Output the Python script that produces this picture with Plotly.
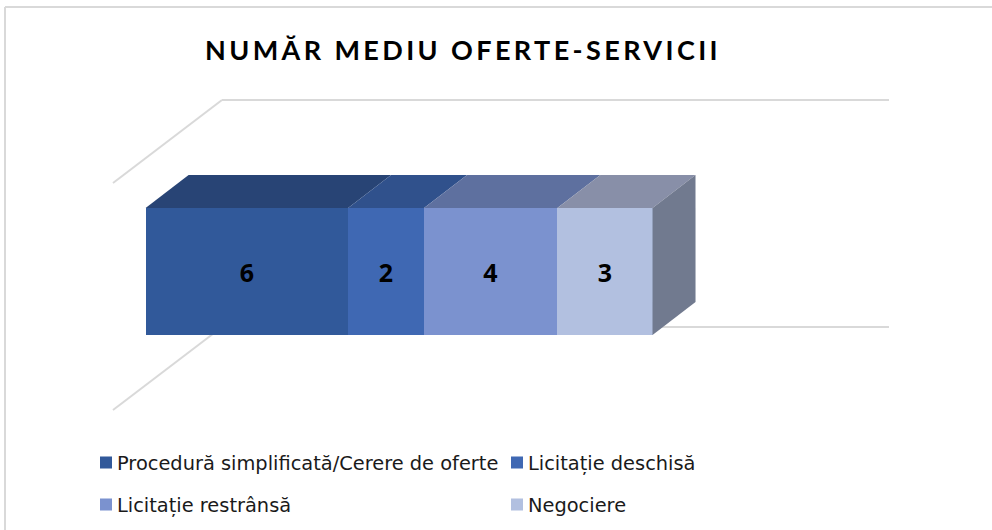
import plotly.graph_objects as go

# ---- data ----
TITLE = "NUMĂR MEDIU OFERTE-SERVICII"
methods = ["Procedură simplificată/Cerere de oferte", "Licitație deschisă", "Licitație restrânsă", "Negociere"]
values = [6.0, 2.25, 3.95, 2.82]
labels = ["6", "2", "4", "3"]
front_colors = ["#31599a", "#3f68b3", "#7b92cf", "#b2c0e0"]
top_colors = ["#284475", "#30518c", "#5e709f", "#888fa8"]
side_color = "#717a8f"
grid_color = "#d9d9d9"

# ---- layout geometry ----
W, H = 992, 530
PX_PER_X = 33.75   # px per value unit
PX_PER_Y = 127.0   # bar thickness
X0_PX, Y0_PX = 145.6, 335
DX, DY = 43 / PX_PER_X, 33 / PX_PER_Y   # 3-D depth, in axis units
X_RANGE = [-X0_PX / PX_PER_X, (W - X0_PX) / PX_PER_X]
Y_RANGE = [-(H - Y0_PX) / PX_PER_Y, Y0_PX / PX_PER_Y]


def ax(px):
    return (px - X0_PX) / PX_PER_X


def ay(py):
    return (Y0_PX - py) / PX_PER_Y


fig = go.Figure()
starts = [sum(values[:i]) for i in range(len(values))]

# front faces: stacked bars
for i, (m, v, lab) in enumerate(zip(methods, values, labels)):
    fig.add_bar(
        y=[0.5], x=[v], width=1, orientation="h", name=m,
        marker=dict(color=front_colors[i], line=dict(width=0)),
        text=[lab], textposition="inside", insidetextanchor="middle",
        textangle=0, constraintext="none",
        textfont=dict(family="Open Sans", size=25, color="#000000", weight="bold"),
        legend="legend" if i < 2 else "legend2",
    )

# top faces
for i, v in enumerate(values):
    s = starts[i]
    fig.add_scatter(
        x=[s, s + v, s + v + DX, s + DX, s], y=[1, 1, 1 + DY, 1 + DY, 1],
        mode="lines", fill="toself", fillcolor=top_colors[i],
        line=dict(width=0), showlegend=False, hoverinfo="skip",
    )

# right-hand side face
end = sum(values)
fig.add_scatter(
    x=[end, end + DX, end + DX, end, end], y=[0, DY, 1 + DY, 1, 0],
    mode="lines", fill="toself", fillcolor=side_color,
    line=dict(width=0), showlegend=False, hoverinfo="skip",
)

# gridlines on walls and floor, under the bars
grid = [
    ((113, 183), (222, 100)), ((222, 100), (889, 100)),
    ((113, 410), (222, 327)), ((222, 327), (889, 327)),
]
shapes = [
    dict(type="line", xref="x", yref="y", layer="below",
         x0=ax(a[0]), y0=ay(a[1]), x1=ax(b[0]), y1=ay(b[1]),
         line=dict(color=grid_color, width=2))
    for a, b in grid
]
# chart frame (left and top edges)
shapes += [
    dict(type="line", xref="paper", yref="paper", layer="below",
         x0=5 / W, x1=5 / W, y0=0, y1=1 - 7 / H, line=dict(color=grid_color, width=2)),
    dict(type="line", xref="paper", yref="paper", layer="below",
         x0=5 / W, x1=1, y0=1 - 7 / H, y1=1 - 7 / H, line=dict(color=grid_color, width=2)),
]

legend_common = dict(
    orientation="h", xanchor="left", yanchor="middle", x=86 / W,
    traceorder="normal",
    bgcolor="rgba(0,0,0,0)", entrywidth=366, entrywidthmode="pixels",
    font=dict(family="DejaVu Sans", size=19.4, color="#1a1a1a"),
    itemclick=False, itemdoubleclick=False,
)

fig.update_layout(
    width=W, height=H, margin=dict(l=0, r=0, t=0, b=0),
    paper_bgcolor="white", plot_bgcolor="white",
    barmode="stack", bargap=0,
    xaxis=dict(range=X_RANGE, visible=False, fixedrange=True),
    yaxis=dict(range=Y_RANGE, visible=False, fixedrange=True),
    shapes=shapes,
    title=dict(
        text=TITLE, x=463 / W, y=1 - 51 / H, xanchor="center", yanchor="middle",
        font=dict(family="Lato", size=27, color="#000000", weight="bold"),
    ),
    legend=dict(y=1 - 463 / H, **legend_common),
    legend2=dict(y=1 - 505 / H, **legend_common),
    showlegend=True,
)

post = """
document.body.style.margin = '0';
function tweak() {
  document.querySelectorAll('.gtitle').forEach(function (t) { t.style.letterSpacing = '3.4px'; });
  document.querySelectorAll('.legendtext, .legend2text').forEach(function (t) { t.setAttribute('x', '31'); });
}
tweak();
var gd = document.getElementById('{plot_id}');
gd.on('plotly_afterplot', tweak);
setTimeout(tweak, 0); setTimeout(tweak, 200);
"""
fig.write_html("out.html", post_script=post, config={"displayModeBar": False})
